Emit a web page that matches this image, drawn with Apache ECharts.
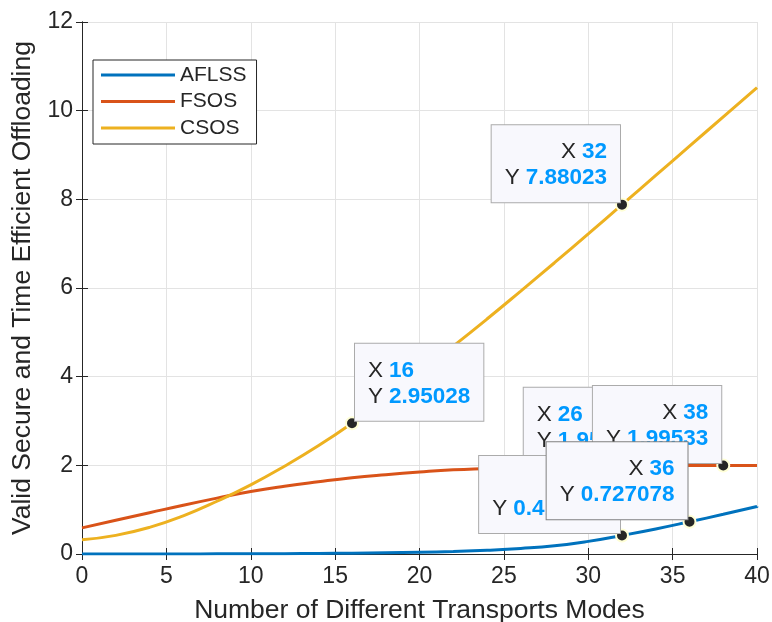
<!DOCTYPE html>
<html>
<head>
<meta charset="utf-8">
<script src="https://cdn.jsdelivr.net/npm/echarts@6/dist/echarts.min.js"></script>
<style>
  html, body { margin: 0; padding: 0; background: #fff; }
  #chart { width: 772px; height: 622px; }
</style>
</head>
<body>
<div id="chart"></div>
<script>
// x positions (transport modes), sampled every 2
const modes = [0, 2, 4, 6, 8, 10, 12, 14, 16, 18, 20, 22, 24, 26, 28, 30, 32, 34, 36, 38, 40];

// values
const aflss = [0, 0.0005, 0.001, 0.002, 0.003, 0.005, 0.008, 0.012, 0.018, 0.027, 0.04,
  0.058, 0.085, 0.125, 0.185, 0.285, 0.418675, 0.565, 0.727078, 0.895, 1.07];
const fsos = [0.59, 0.76, 0.93, 1.1, 1.26, 1.41, 1.53, 1.63, 1.72, 1.79, 1.85,
  1.9, 1.93, 1.95735, 1.972, 1.982, 1.988, 1.992, 1.994, 1.99533, 1.996];
const csos = [0.32, 0.42, 0.6, 0.86, 1.19, 1.56, 1.98, 2.44, 2.95028, 3.51, 4.1,
  4.69, 5.3, 5.93, 6.57, 7.22, 7.88023, 8.54, 9.2, 9.86, 10.52];

const seriesNames = ["AFLSS", "FSOS", "CSOS"];
const seriesValues = [aflss, fsos, csos];
const seriesColors = ["#0072BD", "#D95319", "#EDB120"];

// data tips: which line and which x (drawn in this order, later on top)
const tipLine = [2, 2, 1, 1, 0, 0];
const tipX = [16, 32, 26, 38, 32, 36];
// tip box sits to the right of the point (true) or to the left (false)
const tipRight = [true, false, true, false, false, false];

const xTicks = { min: 0, max: 40, interval: 5 };
const yTicks = { min: 0, max: 12, interval: 2 };

const FONT = "'Liberation Sans', Arial, Helvetica, sans-serif";
const INK = "#262626";

let chart = echarts.init(document.getElementById("chart"));

function pairs(vals) {
  return modes.map((m, i) => [m, vals[i]]);
}

let lineSeries = seriesNames.map((name, i) => ({
  name: name,
  type: "line",
  data: pairs(seriesValues[i]),
  smooth: 0.5,
  showSymbol: false,
  symbol: "none",
  lineStyle: { width: 3, color: seriesColors[i] },
  itemStyle: { color: seriesColors[i] },
  z: 2,
}));

let tipSeries = tipX.map((x, k) => {
  let vals = seriesValues[tipLine[k]];
  let y = vals[modes.indexOf(x)];
  let right = tipRight[k];
  let al = right ? "left" : "right";
  return {
    type: "scatter",
    name: "tip" + k,
    data: [[x, y]],
    symbol: "circle",
    symbolSize: 12,
    itemStyle: { color: INK, borderColor: "#ffffd6", borderWidth: 2, opacity: 1 },
    z: 10 + k,
    silent: true,
    emphasis: { disabled: true },
    label: {
      show: true,
      position: "inside",
      align: al,
      verticalAlign: "bottom",
      offset: [right ? 3 : -2, -2.5],
      backgroundColor: "#f8f8fd",
      borderColor: k === tipX.length - 1 ? "#808080" : "#ababab",
      borderWidth: 1,
      padding: [14, 13, 11, 13],
      formatter: (p) =>
        "{k|X}{v|" + p.value[0] + "}\n{k|Y}{v|" + p.value[1] + "}",
      rich: {
        k: { fontFamily: FONT, fontSize: 22.5, lineHeight: 26, color: INK, align: al },
        v: {
          fontFamily: FONT, fontSize: 22.5, lineHeight: 26, fontWeight: "bold",
          color: "#0099FF", padding: [0, 0, 0, 6], align: al,
        },
      },
    },
  };
});

let options = {
  backgroundColor: "#fff",
  animation: false,
  textStyle: { fontFamily: FONT, color: INK },
  grid: {
    left: 82,
    right: 15,
    top: 22,
    bottom: 68,
    containLabel: false,
    outerBoundsMode: "none",
    show: false,
  },
  legend: {
    data: seriesNames,
    orient: "vertical",
    left: 93,
    top: 60,
    icon: "rect",
    itemWidth: 74,
    itemHeight: 3,
    itemGap: 5.5,
    padding: [4.5, 10, 5.5, 8],
    backgroundColor: "#fff",
    borderColor: INK,
    borderWidth: 1,
    borderRadius: 0,
    selectedMode: false,
    textStyle: { fontFamily: FONT, fontSize: 21, lineHeight: 21, color: INK },
  },
  xAxis: [
    {
      type: "value",
      min: xTicks.min,
      max: xTicks.max,
      interval: xTicks.interval,
      position: "bottom",
      name: "Number of Different Transports Modes",
      nameLocation: "middle",
      nameGap: 43,
      nameTextStyle: { fontFamily: FONT, fontSize: 26.5, color: INK },
      axisLine: { show: true, lineStyle: { color: INK, width: 1 } },
      axisTick: { show: true, inside: true, length: 6, lineStyle: { color: INK } },
      axisLabel: { fontFamily: FONT, fontSize: 23, color: INK, margin: 11 },
      splitLine: { show: true, lineStyle: { color: "#e3e3e3", width: 1 } },
    },
    {
      type: "value",
      min: xTicks.min,
      max: xTicks.max,
      interval: xTicks.interval,
      position: "top",
      axisLine: { show: true, lineStyle: { color: INK, width: 1 } },
      axisTick: { show: true, inside: true, length: 6, lineStyle: { color: INK } },
      axisLabel: { show: false },
      splitLine: { show: false },
    },
  ],
  yAxis: [
    {
      type: "value",
      min: yTicks.min,
      max: yTicks.max,
      interval: yTicks.interval,
      position: "left",
      name: "Valid Secure and Time Efficient Offloading",
      nameLocation: "middle",
      nameGap: 42,
      nameTextStyle: { fontFamily: FONT, fontSize: 26.5, color: INK },
      axisLine: { show: true, lineStyle: { color: INK, width: 1 } },
      axisTick: { show: true, inside: true, length: 6, lineStyle: { color: INK } },
      axisLabel: { fontFamily: FONT, fontSize: 23, color: INK, margin: 9 },
      splitLine: { show: true, lineStyle: { color: "#e3e3e3", width: 1 } },
    },
    {
      type: "value",
      min: yTicks.min,
      max: yTicks.max,
      interval: yTicks.interval,
      position: "right",
      axisLine: { show: true, lineStyle: { color: INK, width: 1 } },
      axisTick: { show: true, inside: true, length: 6, lineStyle: { color: INK } },
      axisLabel: { show: false },
      splitLine: { show: false },
    },
  ],
  series: lineSeries.concat(tipSeries),
};

chart.setOption(options);
</script>
</body>
</html>
